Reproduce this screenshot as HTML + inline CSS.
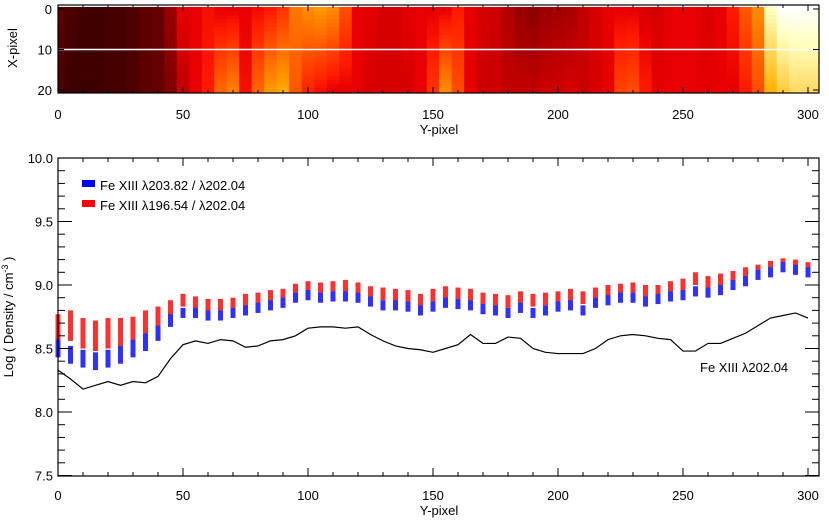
<!DOCTYPE html>
<html><head><meta charset="utf-8"><style>
body{margin:0;background:#fff;}
svg{display:block;font-family:"Liberation Sans",sans-serif;}
</style></head><body>
<svg id="fig" width="829" height="520" viewBox="0 0 829 520" xmlns="http://www.w3.org/2000/svg">
<g id="heat"></g>
<g id="heatAxes"></g>
<g id="marks"></g>
<g id="axes"></g>
<g>
<rect x="82" y="180" width="13" height="7" fill="#0000ff"/>
<text x="100" y="190" font-size="13">Fe XIII λ203.82 / λ202.04</text>
<rect x="82" y="200" width="13" height="7" fill="#ff0000"/>
<text x="100" y="210" font-size="13">Fe XIII λ196.54 / λ202.04</text>
</g>
<text x="700" y="372" font-size="13">Fe XIII λ202.04</text>
<text x="439" y="134" font-size="13" text-anchor="middle">Y-pixel</text>
<text transform="translate(17,48) rotate(-90)" font-size="13" text-anchor="middle">X-pixel</text>
<text x="439" y="515" font-size="13" text-anchor="middle">Y-pixel</text>
<text transform="translate(13,317) rotate(-90)" font-size="13" text-anchor="middle">Log ( Density / cm<tspan font-size="9" dy="-5">-3</tspan><tspan dy="5"> )</tspan></text>
</svg>
<script>
const xs = [0,5,10,15,20,25,30,35,40,45,50,55,60,65,70,75,80,85,90,95,100,105,110,115,120,125,130,135,140,145,150,155,160,165,170,175,180,185,190,195,200,205,210,215,220,225,230,235,240,245,250,255,260,265,270,275,280,285,290,295,300];
const lineVals = [8.33,8.26,8.18,8.21,8.24,8.21,8.24,8.23,8.28,8.42,8.53,8.56,8.54,8.57,8.56,8.51,8.52,8.56,8.57,8.60,8.66,8.67,8.67,8.66,8.67,8.61,8.56,8.52,8.50,8.49,8.47,8.50,8.53,8.61,8.54,8.54,8.59,8.58,8.50,8.47,8.46,8.46,8.46,8.50,8.57,8.60,8.61,8.60,8.58,8.57,8.48,8.48,8.54,8.54,8.58,8.62,8.68,8.74,8.76,8.78,8.74];
const blueVals = [8.50,8.45,8.42,8.40,8.42,8.45,8.50,8.55,8.62,8.72,8.78,8.78,8.76,8.76,8.78,8.80,8.82,8.84,8.86,8.90,8.92,8.90,8.91,8.91,8.90,8.87,8.84,8.84,8.83,8.80,8.83,8.86,8.85,8.84,8.81,8.80,8.78,8.82,8.78,8.80,8.83,8.84,8.80,8.86,8.88,8.90,8.90,8.87,8.89,8.91,8.92,8.95,8.94,8.96,9.00,9.03,9.08,9.10,9.14,9.12,9.10];
const blueErr = [0.07,0.07,0.07,0.07,0.07,0.07,0.07,0.07,0.06,0.05,0.04,0.04,0.04,0.04,0.04,0.04,0.04,0.04,0.04,0.04,0.04,0.04,0.04,0.04,0.04,0.04,0.04,0.04,0.04,0.04,0.04,0.04,0.04,0.04,0.04,0.04,0.04,0.04,0.04,0.04,0.04,0.04,0.04,0.04,0.04,0.04,0.04,0.04,0.04,0.04,0.04,0.04,0.04,0.04,0.04,0.04,0.04,0.04,0.04,0.04,0.04];
const redVals = [8.65,8.68,8.62,8.60,8.62,8.62,8.64,8.70,8.75,8.82,8.88,8.86,8.84,8.84,8.85,8.88,8.89,8.91,8.92,8.96,8.98,8.97,8.98,8.99,8.97,8.94,8.93,8.92,8.91,8.88,8.92,8.94,8.93,8.92,8.89,8.88,8.87,8.90,8.88,8.89,8.90,8.92,8.90,8.93,8.95,8.96,8.97,8.95,8.95,8.98,9.00,9.05,9.02,9.04,9.06,9.09,9.12,9.15,9.17,9.16,9.14];
const redErr = [0.12,0.12,0.12,0.12,0.12,0.12,0.11,0.1,0.08,0.06,0.05,0.05,0.05,0.05,0.05,0.05,0.05,0.05,0.05,0.05,0.05,0.05,0.05,0.05,0.05,0.05,0.05,0.05,0.05,0.05,0.05,0.05,0.05,0.05,0.05,0.05,0.05,0.05,0.05,0.05,0.05,0.05,0.05,0.05,0.05,0.05,0.05,0.05,0.05,0.05,0.05,0.05,0.05,0.05,0.05,0.05,0.04,0.04,0.04,0.04,0.04];
const yTicks = ["7.5","8.0","8.5","9.0","9.5","10.0"];
const xTicks = [0,50,100,150,200,250,300];
const mapCols = [0,5,10,15,20,25,30,35,40,45,50,55,60,65,70,75,80,85,90,95,100,105,110,115,120,125,130,135,140,145,150,155,160,165,170,175,180,185,190,195,200,205,210,215,220,225,230,235,240,245,250,255,260,265,270,275,280,285,290,295,300,305];
const mapTop = [.18,.15,.13,.13,.13,.14,.15,.18,.2,.3,.45,.45,.48,.45,.45,.45,.47,.5,.55,.68,.72,.75,.72,.6,.45,.45,.42,.42,.45,.45,.45,.45,.5,.45,.42,.4,.35,.3,.28,.3,.32,.33,.38,.42,.45,.45,.45,.43,.42,.45,.45,.45,.43,.45,.5,.62,.72,.95,1,1,1,1];
const mapBot = [.15,.12,.12,.12,.13,.14,.15,.18,.2,.25,.38,.45,.5,.65,.7,.48,.65,.75,.78,.62,.52,.48,.45,.45,.45,.42,.42,.42,.42,.45,.55,.72,.6,.45,.4,.4,.38,.38,.38,.4,.4,.42,.4,.42,.45,.58,.6,.5,.45,.45,.45,.45,.45,.45,.45,.5,.6,.8,.85,.88,.88,.88];
const mapYTicks = [0,10,20];

const NS="http://www.w3.org/2000/svg";
function mk(tag, attrs, parent){const e=document.createElementNS(NS,tag);for(const k in attrs)e.setAttribute(k,attrs[k]);parent.appendChild(e);return e;}
const L=58,R=819;
const X=v=>L+v*2.5;
const Y=v=>158+(10-v)*127;
const MY=r=>9+r*4.05;
const T=476;

// heat map
const heat=document.getElementById('heat');
function cmap(t){const c=v=>Math.max(0,Math.min(255,Math.round(v)));return `rgb(${c(255*t/0.5)},${c(255*(t-0.45)/0.5)},${c(255*(t-0.8)/0.2)})`;}
for(let i=0;i<mapCols.length;i++){
  for(let r=0;r<21;r++){
    const f=r/20;const t=mapTop[i]*(1-f)+mapBot[i]*f;
    const x0=X(mapCols[i])-6.25, w=12.5;
    const cx=Math.max(L,x0), cw=Math.min(R,x0+w+0.5)-cx;
    if(cw<=0)continue;
    const c=mk('rect',{x:cx,y:MY(r)-2.03,width:cw,height:4.6,fill:cmap(t)},heat);
    
    
  }
}
const wl=mk('line',{x1:L,x2:R,y1:MY(10),y2:MY(10),stroke:'#fff','stroke-width':1.5},heat);



const ha=document.getElementById('heatAxes');
const mT=MY(0)-4, mB=MY(20)+3;
mk('rect',{x:L,y:mT,width:R-L,height:mB-mT,fill:'none',stroke:'#000','stroke-width':1.2},ha);
for(let v=0;v<=300;v+=10){
  const len=v%50===0?6:3;
  mk('line',{x1:X(v),x2:X(v),y1:mB,y2:mB-len,stroke:'#000'},ha);
  mk('line',{x1:X(v),x2:X(v),y1:mT,y2:mT+len,stroke:'#000'},ha);
}
xTicks.forEach(v=>{const t=mk('text',{x:X(v),y:119,'font-size':13,'text-anchor':'middle'},ha);t.textContent=v;

});
mapYTicks.forEach(v=>{const t=mk('text',{x:52,y:MY(v)+5,'font-size':13,'text-anchor':'end'},ha);t.textContent=v;


mk('line',{x1:L,x2:L+6,y1:MY(v),y2:MY(v),stroke:'#000'},ha);mk('line',{x1:R,x2:R-6,y1:MY(v),y2:MY(v),stroke:'#000'},ha);});

// density marks
const marks=document.getElementById('marks');
for(let i=0;i<xs.length;i++){
  const rr=mk('rect',{x:X(xs[i])-2.5,width:5,y:Y(redVals[i]+redErr[i]),height:Y(redVals[i]-redErr[i])-Y(redVals[i]+redErr[i]),fill:'#ff3030'},marks);
  
  
}
for(let i=0;i<xs.length;i++){
  const br=mk('rect',{x:X(xs[i])-2.5,width:5,y:Y(blueVals[i]+blueErr[i]),height:Y(blueVals[i]-blueErr[i])-Y(blueVals[i]+blueErr[i]),fill:'#3030ff'},marks);
  
  
}
const pl=mk('polyline',{points:xs.map((x,i)=>X(x)+','+Y(lineVals[i])).join(' '),fill:'none',stroke:'#000','stroke-width':1.2},marks);



// axes
const ax=document.getElementById('axes');
mk('rect',{x:L,y:158,width:R-L,height:T-158,fill:'none',stroke:'#000','stroke-width':1.2},ax);
for(let v=0;v<=300;v+=10){
  const len=v%50===0?8:4;
  mk('line',{x1:X(v),x2:X(v),y1:T,y2:T-len,stroke:'#000'},ax);
  mk('line',{x1:X(v),x2:X(v),y1:158,y2:158+len,stroke:'#000'},ax);
}
for(let k=0;k<=25;k++){
  const v=7.5+k*0.1;const len=k%5===0?14:7;
  mk('line',{x1:L,x2:L+len,y1:Y(v),y2:Y(v),stroke:'#000'},ax);
  mk('line',{x1:R,x2:R-len,y1:Y(v),y2:Y(v),stroke:'#000'},ax);
}
xTicks.forEach(v=>{const t=mk('text',{x:X(v),y:500,'font-size':13,'text-anchor':'middle'},ax);t.textContent=v;

});
yTicks.forEach(s=>{const t=mk('text',{x:53,y:Y(parseFloat(s))+5,'font-size':13,'text-anchor':'end'},ax);t.textContent=s;

});
</script>
</body></html>
